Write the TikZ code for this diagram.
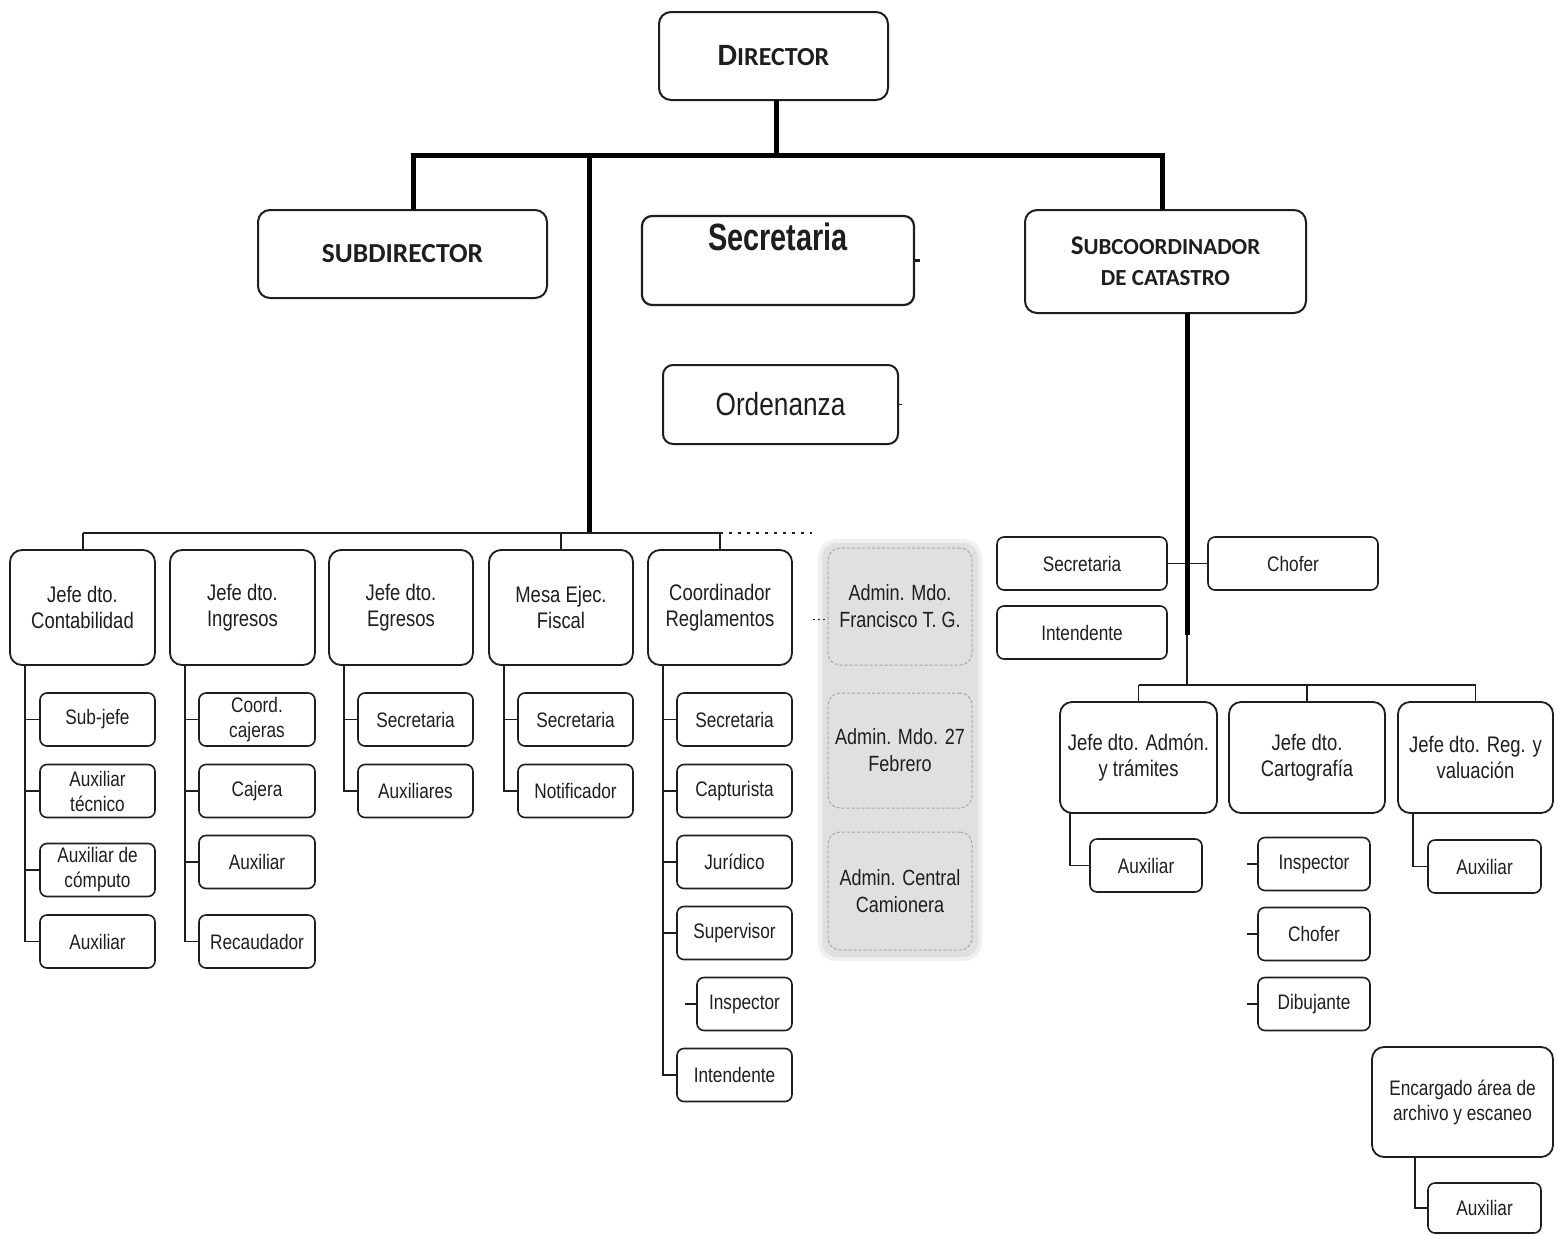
\documentclass[tikz,border=0pt]{standalone}
\usepackage{fontspec}
\usetikzlibrary{calc}
\newfontfamily\calfont{Carlito}
\newfontfamily\arn{Liberation Sans}[FakeStretch=0.82]
\newfontfamily\arnw{Liberation Sans}[FakeStretch=0.76]
\definecolor{ink}{HTML}{1E1E1E}
\begin{document}
\begin{tikzpicture}[x=1pt,y=-1pt,
  every node/.style={inner sep=0pt, outer sep=0pt, text=ink},
  bigbox/.style={draw=ink, line width=2pt, rounded corners=12pt, fill=white, align=center,
     font=\calfont\bfseries\fontsize{26}{31}\selectfont},
  headbox/.style={draw=ink, line width=1.8pt, rounded corners=12pt, fill=white, align=center,
     minimum height=115pt, font=\arn\fontsize{22.5}{26}\selectfont},
  smallbox/.style={draw=ink, line width=1.6pt, rounded corners=7pt, fill=white, align=center,
     minimum width=115pt, minimum height=53pt, font=\arn\fontsize{21}{25}\selectfont},
  admbox/.style={draw=gray!70, line width=1pt, dash pattern=on 3pt off 2pt, rounded corners=12pt,
     align=center, minimum width=144pt, font=\arn\fontsize{22}{27}\selectfont},
  thickline/.style={draw=black, line width=5pt},
  thinline/.style={draw=ink, line width=1.8pt}]
\useasboundingbox (0,0) rectangle (1554,1234);
\fill[white] (0,0) rectangle (1554,1234);

% ---------- top level ----------
\node[bigbox, minimum width=229pt, minimum height=88pt] (director) at (773.5,56)
  {{\fontsize{31}{31}\selectfont D}IRECTOR};
\node[bigbox, minimum width=289pt, minimum height=88pt, font=\calfont\bfseries\fontsize{27.5}{31}\selectfont] (subdir) at (402.5,254) {SUBDIRECTOR};
\node[bigbox, minimum width=281pt, minimum height=103pt, font=\calfont\bfseries\fontsize{23}{31}\selectfont] (subcoord) at (1165.5,261.5)
  {{\fontsize{27}{27}\selectfont S}UBCOORDINADOR\\DE CATASTRO};
\node[draw=ink, line width=2.2pt, rounded corners=10pt, fill=white, minimum width=272pt, minimum height=89pt,
  font=\arnw\bfseries\fontsize{38}{40}\selectfont] (secr) at (778,260.5)
  {\raisebox{10pt}[0pt][0pt]{Secretaria}};
\node[draw=ink, line width=2pt, rounded corners=10pt, fill=white, minimum width=235pt, minimum height=79pt,
  font=\arn\fontsize{32}{34}\selectfont] (ordz) at (780.5,404.5) {Ordenanza};

\coordinate (hM) at (776,155);
\coordinate (hL) at (413,155);
\coordinate (hR) at (1162,155);
\coordinate (hT) at (589,155);
\draw[thickline] (director.south -| hM) -- (hM);
\draw[thickline] ([xshift=-2.5pt]hL) -- ([xshift=2.5pt]hR);
\draw[thickline] (hL) -- (hL |- subdir.north);
\draw[thickline] (hR) -- (hR |- subcoord.north);
\draw[thinline, line width=2.5pt] (secr.east) -- ++(6,0);
\draw[thinline, line width=1.5pt] (ordz.east) -- ++(4,0);

% ---------- left branch ----------
\coordinate (barL) at (83,533);
\coordinate (barR) at (720,533);
\coordinate (barM) at (561,533);
\coordinate (barT) at (589,533);
\draw[thickline] (hT) -- ([yshift=1pt]barT);
\draw[thinline] (barL) -- (barR);
\draw[ink, line width=1.5pt, dash pattern=on 3pt off 6pt] (barR) -- (812,533);

\node[headbox, minimum width=145pt] (cont) at (82.5,607.5) {Jefe dto.\\Contabilidad};
\node[headbox, minimum width=145pt] (ingr) at (242.5,607.5) {Jefe dto.\\Ingresos};
\node[headbox, minimum width=144pt] (egr) at (401,607.5) {Jefe dto.\\Egresos};
\node[headbox, minimum width=144pt] (mesa) at (561,607.5) {Mesa Ejec.\\Fiscal};
\node[headbox, minimum width=144pt] (coord) at (720,607.5) {Coordinador\\Reglamentos};

\draw[thinline] (barL) -- (barL |- cont.north);
\draw[thinline] (barM) -- (barM |- mesa.north);
\draw[thinline] (barR) -- (barR |- coord.north);

% Contabilidad
\node[smallbox] (c1) at (97.5,719.5) {Sub-jefe};
\node[smallbox] (c2) at (97.5,791) {Auxiliar\\técnico};
\node[smallbox] (c3) at (97.5,870) {Auxiliar de\\cómputo};
\node[smallbox] (c4) at (97.5,941.5) {Auxiliar};
\coordinate (tc) at ($(cont.south west)+(15,0)$);
\draw[thinline] (tc) |- (c4.west);
\foreach \n in {c1,c2,c3} \draw[thinline] (\n.west) -- (\n.west -| tc);

% Ingresos
\node[smallbox, minimum width=116pt] (i1) at (257,719.5) {Coord.\\cajeras};
\node[smallbox, minimum width=116pt] (i2) at (257,791) {Cajera};
\node[smallbox, minimum width=116pt] (i3) at (257,862) {Auxiliar};
\node[smallbox, minimum width=116pt] (i4) at (257,941.5) {Recaudador};
\coordinate (ti) at ($(ingr.south west)+(15,0)$);
\draw[thinline] (ti) |- (i4.west);
\foreach \n in {i1,i2,i3} \draw[thinline] (\n.west) -- (\n.west -| ti);

% Egresos
\node[smallbox] (e1) at (415.5,719.5) {Secretaria};
\node[smallbox] (e2) at (415.5,791) {Auxiliares};
\coordinate (te) at ($(egr.south west)+(15,0)$);
\draw[thinline] (te) |- (e2.west);
\draw[thinline] (e1.west) -- (e1.west -| te);

% Mesa
\node[smallbox] (m1) at (575.5,719.5) {Secretaria};
\node[smallbox] (m2) at (575.5,791) {Notificador};
\coordinate (tm) at ($(mesa.south west)+(15,0)$);
\draw[thinline] (tm) |- (m2.west);
\draw[thinline] (m1.west) -- (m1.west -| tm);

% Coordinador
\node[smallbox] (r1) at (734.5,719.5) {Secretaria};
\node[smallbox] (r2) at (734.5,791) {Capturista};
\node[smallbox] (r3) at (734.5,862) {Jurídico};
\node[smallbox] (r4) at (734.5,933) {Supervisor};
\node[smallbox, minimum width=95pt] (r5) at (744.5,1004) {Inspector};
\node[smallbox] (r6) at (734.5,1075) {Intendente};
\coordinate (tr) at ($(coord.south west)+(15,0)$);
\draw[thinline] (tr) |- (r6.west);
\foreach \n in {r1,r2,r3,r4} \draw[thinline] (\n.west) -- (\n.west -| tr);
\draw[thinline, line width=1.5pt] (r5.west) -- ++(-12,0);

% Admin panel
\fill[gray!12, rounded corners=18pt] (818,539) rectangle (982,961);
\fill[gray!24, rounded corners=15pt] (822,543) rectangle (978,957);
\node[admbox, minimum height=117pt] (a1) at (900,606.5) {Admin. Mdo.\\Francisco T. G.};
\node[admbox, minimum height=115pt] (a2) at (900,750.5) {Admin. Mdo. 27\\Febrero};
\node[admbox, minimum height=118pt] (a3) at (900,891) {Admin. Central\\Camionera};
\draw[ink, line width=1.5pt, dash pattern=on 2pt off 3pt] ($(a1.west)+(-15,13)$) -- ($(a1.west)+(0,13)$);

% ---------- right branch ----------
\coordinate (rtop) at (1187,313);
\coordinate (rmid) at (1187,635);
\coordinate (rbar) at (1187,685);
\node[smallbox, minimum width=170pt] (rsec) at (1082,563.5) {Secretaria};
\node[smallbox, minimum width=170pt] (rchof) at (1293,563.5) {Chofer};
\node[smallbox, minimum width=170pt] (rint) at (1082,632.5) {Intendente};
\draw[thinline] (rsec.east) -- (rchof.west);
\draw[thickline] (rtop) -- (rmid);
\draw[thinline] (rmid) -- (rbar);

\node[headbox, minimum width=157pt, minimum height=111pt] (jadm) at (1138.5,757.5) {Jefe dto. Admón.\\y trámites};
\node[headbox, minimum width=156pt, minimum height=111pt] (jcar) at (1307,757.5) {Jefe dto.\\Cartografía};
\node[headbox, minimum width=155pt, minimum height=111pt] (jreg) at (1475.5,757.5) {Jefe dto. Reg. y\\valuación};
\draw[thinline] (jadm.north |- rbar) -- (jreg.north |- rbar);
\draw[thinline] (jadm.north |- rbar) -- (jadm.north);
\draw[thinline] (jcar.north |- rbar) -- (jcar.north);
\draw[thinline] (jreg.north |- rbar) -- (jreg.north);

\node[smallbox, minimum width=112pt] (x1) at (1146,865.5) {Auxiliar};
\draw[thinline] ($(jadm.south west)+(10,0)$) |- (x1.west);

\node[smallbox, minimum width=112pt] (p1) at (1314,864) {Inspector};
\node[smallbox, minimum width=112pt] (p2) at (1314,934) {Chofer};
\node[smallbox, minimum width=112pt] (p3) at (1314,1004) {Dibujante};
\foreach \n in {p1,p2,p3} \draw[thinline, line width=1.5pt] (\n.west) -- ++(-11,0);

\node[smallbox, minimum width=113pt] (x2) at (1484.5,866.5) {Auxiliar};
\draw[thinline] ($(jreg.south west)+(15,0)$) |- (x2.west);

\node[headbox, minimum width=181pt, minimum height=110pt, font=\arn\fontsize{21}{25}\selectfont] (enc) at (1462.5,1102) {Encargado área de\\archivo y escaneo};
\node[smallbox, minimum width=113pt, minimum height=50pt] (x3) at (1484.5,1208) {Auxiliar};
\draw[thinline] ($(enc.south west)+(43,0)$) |- (x3.west);
\end{tikzpicture}
\end{document}
